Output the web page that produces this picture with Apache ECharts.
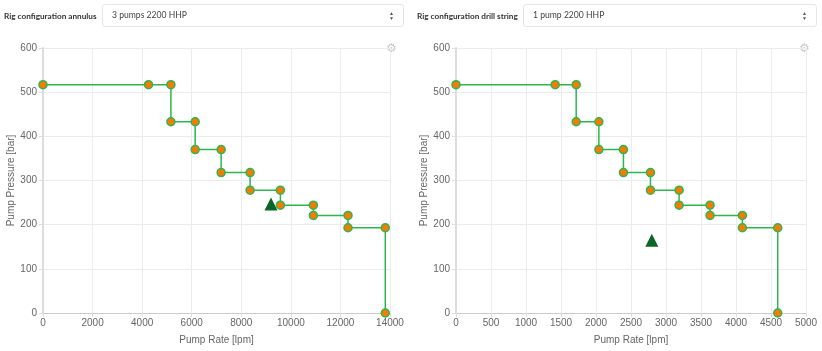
<!DOCTYPE html>
<html>
<head>
<meta charset="utf-8">
<script src="https://cdn.jsdelivr.net/npm/echarts@6/dist/echarts.min.js"></script>
<style>
    html, body { margin: 0; padding: 0; background: #fff; }
    body { width: 822px; height: 351px; overflow: hidden; font-family: Lato, "Liberation Sans", sans-serif; }
    .lbl { position: absolute; top: 11px; font-size: 8.2px; font-weight: bold; color: #333; white-space: nowrap; }
    .sel { position: absolute; top: 4px; height: 23px; box-sizing: border-box; border: 1px solid #e6e6e6;
           border-radius: 3px; font-size: 8.6px; color: #444; line-height: 21px; padding-left: 9px; white-space: nowrap; }
    .sel .arr { position: absolute; right: 9px; top: 6px; font-size: 5px; line-height: 5px; color: #555; }
    #chart { position: absolute; left: 0; top: 0; width: 822px; height: 351px; }
</style>
</head>
<body>
<div id="chart"></div>
<div class="lbl" style="left:4px">Rig configuration annulus</div>
<div class="sel" style="left:102px;width:302px">3 pumps 2200 HHP<span class="arr">&#9650;<br>&#9660;</span></div>
<div class="lbl" style="left:417px">Rig configuration drill string</div>
<div class="sel" style="left:523px;width:294px">1 pump 2200 HHP<span class="arr">&#9650;<br>&#9660;</span></div>
<script>
// annulus: 3 pumps 2200 HHP
var annulusRate     = [0, 4257, 5160, 5160, 6140, 6140, 7187, 7187, 8356, 8356, 9577, 9577, 10908, 10908, 12306, 12306, 13810, 13810];
var annulusPressure = [517, 517, 517, 433, 433, 370, 370, 318, 318, 278, 278, 244, 244, 221, 221, 193, 193, 0];
var annulusPoint    = [9200, 247];

// drill string: 1 pump 2200 HHP
var stringRate      = [0, 1417, 1717, 1717, 2041, 2041, 2392, 2392, 2778, 2778, 3187, 3187, 3629, 3629, 4091, 4091, 4596, 4596];
var stringPressure  = [517, 517, 517, 433, 433, 370, 370, 318, 318, 278, 278, 244, 244, 221, 221, 193, 193, 0];
var stringPoint     = [2797, 165];

var xMaxLeft = 14000, xStepLeft = 2000;
var xMaxRight = 5000, xStepRight = 500;
var yMax = 600, yStep = 100;

function pairs(xs, ys) {
    return xs.map(function (x, i) { return [x, ys[i]]; });
}

function plain(v) { return String(v); }

function xAxis(idx, max, step) {
    return {
        gridIndex: idx, type: 'value', min: 0, max: max, interval: step,
        name: 'Pump Rate [lpm]', nameLocation: 'middle', nameGap: 22,
        nameTextStyle: { color: '#666', fontSize: 10, fontFamily: 'Liberation Sans' },
        axisLine: { show: true, lineStyle: { color: '#ccc', width: 1 } },
        axisTick: { show: true, length: 4, lineStyle: { color: '#ddd' } },
        axisLabel: { color: '#666', fontSize: 10, fontFamily: 'Liberation Sans', margin: 5, formatter: plain },
        splitLine: { show: true, lineStyle: { color: '#ececec' } }
    };
}

function yAxis(idx) {
    return {
        gridIndex: idx, type: 'value', min: 0, max: yMax, interval: yStep,
        name: 'Pump Pressure [bar]', nameLocation: 'middle', nameGap: 25,
        nameTextStyle: { color: '#666', fontSize: 10, fontFamily: 'Liberation Sans' },
        axisLine: { show: true, lineStyle: { color: '#ddd', width: 2 } },
        axisTick: { show: true, length: 4, lineStyle: { color: '#ddd' } },
        axisLabel: { color: '#666', fontSize: 10, fontFamily: 'Liberation Sans', margin: 6, formatter: plain },
        splitLine: { show: true, lineStyle: { color: '#ececec' } }
    };
}

function curve(idx, data) {
    return {
        type: 'line', xAxisIndex: idx, yAxisIndex: idx, data: data,
        symbol: 'circle', symbolSize: 8, showSymbol: true,
        lineStyle: { color: '#2cb552', width: 1.5 },
        itemStyle: { color: '#f57c00', borderColor: '#2cb552', borderWidth: 1.5 },
        silent: true, animation: false, z: 2
    };
}

function marker(idx, pt) {
    return {
        type: 'scatter', xAxisIndex: idx, yAxisIndex: idx, data: [pt],
        symbol: 'triangle', symbolSize: 13,
        itemStyle: { color: '#0b6626', opacity: 1 }, silent: true, animation: false, z: 3
    };
}

var chart = echarts.init(document.getElementById('chart'));
chart.setOption({
    animation: false,
    grid: [
        { left: 43, top: 48, width: 347, height: 265 },
        { left: 456, top: 48, width: 350, height: 265 }
    ],
    xAxis: [xAxis(0, xMaxLeft, xStepLeft), xAxis(1, xMaxRight, xStepRight)],
    yAxis: [yAxis(0), yAxis(1)],
    series: [
        curve(0, pairs(annulusRate, annulusPressure)),
        marker(0, annulusPoint),
        curve(1, pairs(stringRate, stringPressure)),
        marker(1, stringPoint)
    ],
    graphic: [
        { type: 'text', left: 386, top: 43, style: { text: '\u2699', fill: '#c8c8c8', font: '12px DejaVu Sans' } },
        { type: 'text', left: 799, top: 43, style: { text: '\u2699', fill: '#c8c8c8', font: '12px DejaVu Sans' } }
    ]
});
</script>
</body>
</html>
